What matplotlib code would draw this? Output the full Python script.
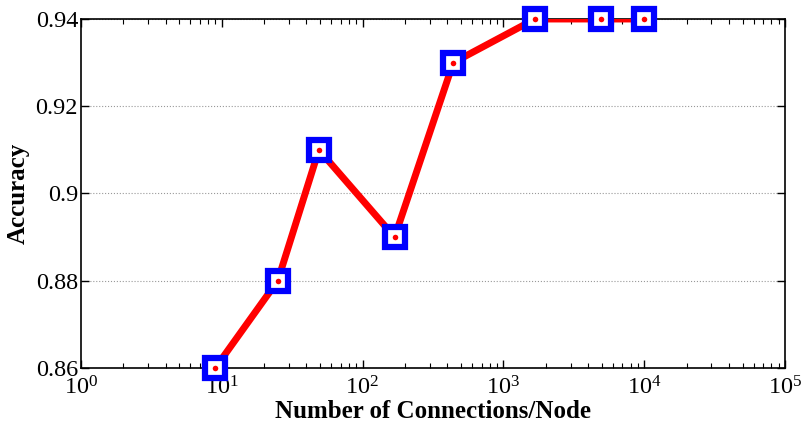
import matplotlib
matplotlib.use("Agg")
import matplotlib.pyplot as plt
from matplotlib.ticker import LogLocator, FixedLocator

plt.rcParams['font.family'] = ['Liberation Serif', 'DejaVu Serif']
plt.rcParams['mathtext.fontset'] = 'stix'

# connections per node vs. accuracy
connections = [9, 25, 49, 169, 441, 1681, 4900, 10000]
accuracy = [0.86, 0.88, 0.91, 0.89, 0.93, 0.94, 0.94, 0.94]
yticks = [0.86, 0.88, 0.90, 0.92, 0.94]
ytick_labels = ['0.86', '0.88', '0.9', '0.92', '0.94']

fig = plt.figure(figsize=(8.01, 4.22), dpi=100)
ax = fig.add_axes([0.101, 0.128, 0.879, 0.827])

ax.plot(connections, accuracy, '-', color='red', lw=5, zorder=3, solid_capstyle='butt')
ax.plot(connections, accuracy, 's', ms=15, mfc='white', mec='blue', mew=4.5,
        zorder=4, clip_on=False)
ax.plot(connections, accuracy, 'o', ms=4, color='red', mew=0, zorder=5, clip_on=False)

ax.set_xscale('log')
ax.set_xlim(1, 1e5)
ax.set_ylim(0.86, 0.94)
ax.xaxis.set_major_locator(LogLocator(base=10, numticks=10))
ax.xaxis.set_minor_locator(LogLocator(base=10, subs=range(2, 10), numticks=20))
ax.yaxis.set_major_locator(FixedLocator(yticks))
ax.set_yticklabels(ytick_labels)
ax.yaxis.set_minor_locator(FixedLocator([]))

ax.grid(axis='y', which='major', linestyle=':', color='#999999', lw=0.8)
ax.tick_params(which='both', direction='in', top=True, right=True)
ax.tick_params(axis='y', labelsize=17.5, pad=2)
ax.tick_params(axis='x', labelsize=17.5, pad=6)
ax.tick_params(which='major', length=6, width=1)
ax.tick_params(which='minor', length=3.5, width=0.8)
for s in ax.spines.values():
    s.set_linewidth(1.2)

ax.set_xlabel('Number of Connections/Node', fontsize=18, fontweight='bold', labelpad=0)
ax.set_ylabel('Accuracy', fontsize=18, fontweight='bold', labelpad=4)

fig.savefig('out.png', dpi=100)
